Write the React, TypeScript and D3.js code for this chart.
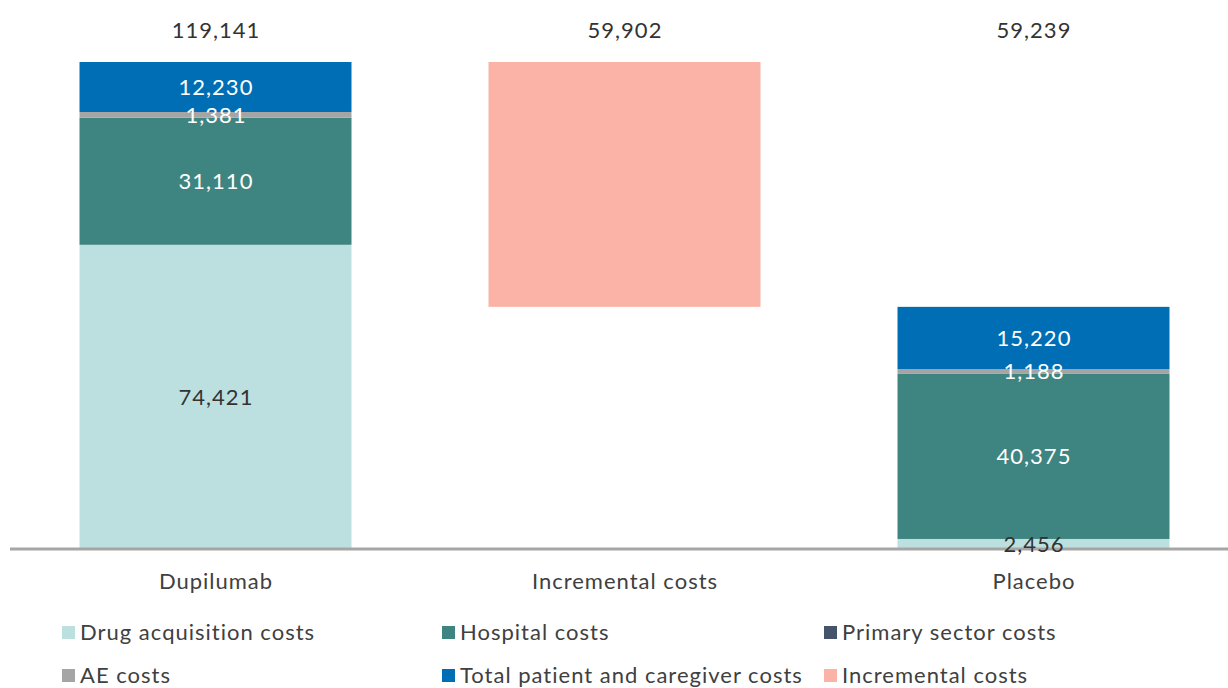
import React from "react";
import * as d3 from "d3";

// Cost breakdown per arm (DKK), stacked bottom to top
const categories = ["Dupilumab", "Incremental costs", "Placebo"];
const seriesNames = [
  "Drug acquisition costs",
  "Hospital costs",
  "Primary sector costs",
  "AE costs",
  "Total patient and caregiver costs",
  "Incremental costs",
];
const seriesColors = ["#BCE0E0", "#3E8581", "#44546A", "#A5A5A5", "#006EB4", "#FBB3A7"];
const labelColors = ["#333333", "#FFFFFF", "#FFFFFF", "#FFFFFF", "#FFFFFF", "#333333"];

const drugCosts = [74421, 0, 2456];
const hospitalCosts = [31110, 0, 40375];
const primaryCosts = [0, 0, 0];
const aeCosts = [1381, 0, 1188];
const patientCosts = [12230, 0, 15220];
const incrementalCosts = [0, 59902, 0];
// invisible base that lifts the incremental bar to the placebo total
const incrementalBase = [0, 59239, 0];
const totals = [119141, 59902, 59239];

const W = 1228;
const H = 688;
const axisY = 549;
const FONT = "Lato, 'Open Sans', sans-serif";
const SPACING = 1;

export default function App() {
  const x = d3
    .scaleBand<string>()
    .domain(categories)
    .range([11, 1238])
    .paddingInner(0.335)
    .paddingOuter(0.1675);
  const y = d3.scaleLinear().domain([0, 119141]).range([axisY, 62]);

  const values = [drugCosts, hospitalCosts, primaryCosts, aeCosts, patientCosts, incrementalCosts];
  const rows = categories.map((c, i) => {
    const r: Record<string, number | string> = { cat: c, base: incrementalBase[i] };
    seriesNames.forEach((s, k) => (r[s] = values[k][i]));
    return r;
  });
  const stack = d3.stack<any>().keys(["base", ...seriesNames]);
  const layers = stack(rows as any);

  const legendCols = [62, 442, 824];
  const legendRows = [632, 675];
  const cx = (c: string) => (x(c) ?? 0) + x.bandwidth() / 2 + SPACING / 2;

  return (
    <svg
      width={W}
      height={H}
      style={{ position: "absolute", left: 0, top: 0, background: "#fff" }}
      fontFamily={FONT}
      letterSpacing={SPACING}
    >
      {layers.map((layer, li) => {
        if (li === 0) return null;
        const k = li - 1;
        return (
          <g key={layer.key}>
            {layer.map((d, i) => {
              const v = d[1] - d[0];
              if (v <= 0) return null;
              return (
                <rect
                  key={i}
                  x={x(categories[i])}
                  width={x.bandwidth()}
                  y={y(d[1])}
                  height={y(d[0]) - y(d[1])}
                  fill={seriesColors[k]}
                />
              );
            })}
          </g>
        );
      })}
      <line x1={10} x2={W} y1={axisY} y2={axisY} stroke="#A6A6A6" strokeWidth={3} />
      {layers.map((layer, li) => {
        if (li === 0 || li === layers.length - 1) return null;
        const k = li - 1;
        return (
          <g key={"l" + layer.key}>
            {layer.map((d, i) => {
              const v = d[1] - d[0];
              if (v <= 0) return null;
              return (
                <text
                  key={i}
                  x={cx(categories[i])}
                  y={y((d[0] + d[1]) / 2)}
                  dy="0.35em"
                  textAnchor="middle"
                  fontSize={22}
                  fill={labelColors[k]}
                >
                  {d3.format(",")(v)}
                </text>
              );
            })}
          </g>
        );
      })}
      {categories.map((c, i) => (
        <g key={c}>
          <text x={cx(c)} y={30} dy="0.35em" textAnchor="middle" fontSize={22} fill="#333333">
            {d3.format(",")(totals[i])}
          </text>
          <text x={cx(c)} y={581} dy="0.35em" textAnchor="middle" fontSize={22} fill="#404040">
            {c}
          </text>
        </g>
      ))}
      {seriesNames.map((s, k) => {
        const lx = legendCols[k % 3];
        const ly = legendRows[Math.floor(k / 3)];
        return (
          <g key={"lg" + s}>
            <rect x={lx} y={ly - 6} width={13} height={13} fill={seriesColors[k]} />
            <text x={lx + 18} y={ly} dy="0.35em" fontSize={22} fill="#404040">
              {s}
            </text>
          </g>
        );
      })}
    </svg>
  );
}
